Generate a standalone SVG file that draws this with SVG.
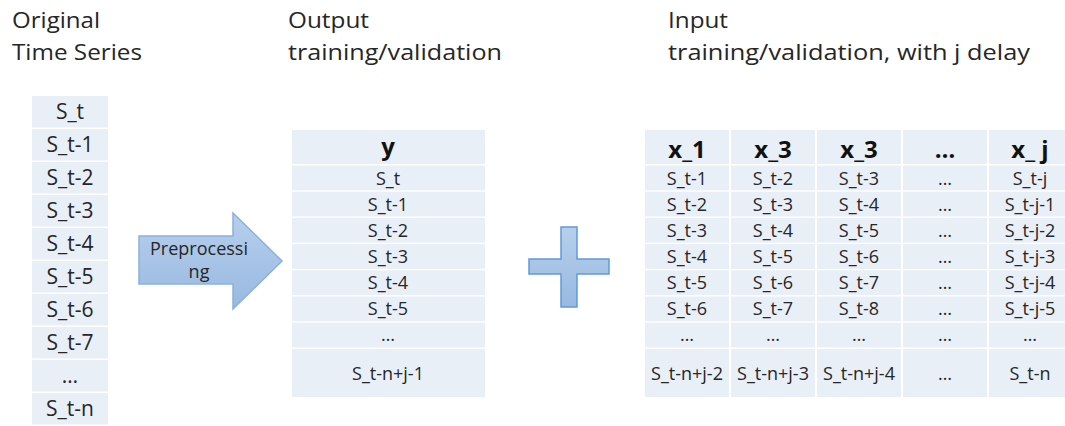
<svg xmlns="http://www.w3.org/2000/svg" width="1065" height="426" viewBox="0 0 1065 426">
  <defs>
    <linearGradient id="blueFill" x1="0" y1="0" x2="0" y2="1">
      <stop offset="0" stop-color="#b7cfec"/>
      <stop offset="1" stop-color="#98b9e1"/>
    </linearGradient>
    <style>
      .title { font-family: "Open Sans", "Liberation Sans", sans-serif; font-size: 22px; fill: #262626; }
      .cell { fill: #e9eff7; }
      .big { font-family: "Open Sans", "Liberation Sans", sans-serif; font-size: 21px; fill: #262626; text-anchor: middle; }
      .txt { font-family: "Open Sans", "Liberation Sans", sans-serif; font-size: 18px; fill: #262626; text-anchor: middle; }
      .hdr { font-family: "Open Sans", "Liberation Sans", sans-serif; font-size: 24px; font-weight: bold; fill: #111; text-anchor: middle; }
      .shape { fill: url(#blueFill); stroke-width: 1.5; }
    </style>
  </defs>
  <rect width="1065" height="426" fill="#ffffff"/>

  <!-- column titles -->
  <g id="titles">
    <text class="title" x="12" y="28" textLength="88" lengthAdjust="spacingAndGlyphs">Original</text>
    <text class="title" x="12" y="60" textLength="130" lengthAdjust="spacingAndGlyphs">Time Series</text>
    <text class="title" x="288" y="28" textLength="81" lengthAdjust="spacingAndGlyphs">Output</text>
    <text class="title" x="288" y="60" textLength="214" lengthAdjust="spacingAndGlyphs">training/validation</text>
    <text class="title" x="668" y="28" textLength="60" lengthAdjust="spacingAndGlyphs">Input</text>
    <text class="title" x="668" y="60" textLength="362" lengthAdjust="spacingAndGlyphs">training/validation, with j delay</text>
  </g>

  <!-- original series column -->
  <g id="series">
    <rect class="cell" x="32" y="96" width="76" height="31.5"/>
    <rect class="cell" x="32" y="129" width="76" height="31.5"/>
    <rect class="cell" x="32" y="162" width="76" height="31.5"/>
    <rect class="cell" x="32" y="195" width="76" height="31.5"/>
    <rect class="cell" x="32" y="228" width="76" height="31.5"/>
    <rect class="cell" x="32" y="261" width="76" height="31.5"/>
    <rect class="cell" x="32" y="294" width="76" height="31.5"/>
    <rect class="cell" x="32" y="327" width="76" height="31.5"/>
    <rect class="cell" x="32" y="360" width="76" height="31.5"/>
    <rect class="cell" x="32" y="393" width="76" height="31.5"/>
    <text class="big" x="70" y="119">S_t</text>
    <text class="big" x="70" y="152">S_t-1</text>
    <text class="big" x="70" y="185">S_t-2</text>
    <text class="big" x="70" y="218">S_t-3</text>
    <text class="big" x="70" y="251">S_t-4</text>
    <text class="big" x="70" y="284">S_t-5</text>
    <text class="big" x="70" y="317">S_t-6</text>
    <text class="big" x="70" y="350">S_t-7</text>
    <text class="big" x="70" y="383">…</text>
    <text class="big" x="70" y="416">S_t-n</text>
  </g>

  <!-- preprocessing arrow -->
  <g id="preprocessing">
    <path class="shape" stroke="#8cb0dc" d="M139,236 H233 V213 L282,261 L233,309 V284 H139 Z"/>
    <text class="txt" x="199" y="255" font-size="16.5">Preprocessi</text>
    <text class="txt" x="199" y="278" font-size="16.5">ng</text>
  </g>

  <!-- output table -->
  <g id="output">
    <rect class="cell" x="292" y="130" width="193" height="34"/>
    <rect class="cell" x="292" y="165.5" width="193" height="24.8"/>
    <rect class="cell" x="292" y="191.7" width="193" height="24.8"/>
    <rect class="cell" x="292" y="217.9" width="193" height="24.8"/>
    <rect class="cell" x="292" y="244.1" width="193" height="24.8"/>
    <rect class="cell" x="292" y="270.3" width="193" height="24.8"/>
    <rect class="cell" x="292" y="296.5" width="193" height="24.8"/>
    <rect class="cell" x="292" y="322.7" width="193" height="24.8"/>
    <rect class="cell" x="292" y="349" width="193" height="48"/>
    <text class="hdr" x="388" y="155">y</text>
    <text class="txt" x="388" y="185">S_t</text>
    <text class="txt" x="388" y="211">S_t-1</text>
    <text class="txt" x="388" y="237">S_t-2</text>
    <text class="txt" x="388" y="263">S_t-3</text>
    <text class="txt" x="388" y="289">S_t-4</text>
    <text class="txt" x="388" y="315">S_t-5</text>
    <text class="txt" x="388" y="341">…</text>
    <text class="txt" x="388" y="380">S_t-n+j-1</text>
  </g>

  <!-- plus sign -->
  <g id="plus">
    <path class="shape" stroke="#5f9bd6" d="M561,227 H577 V259 H609 V274 H577 V307 H561 V274 H529 V259 H561 Z"/>
  </g>

  <!-- input table: column backgrounds -->
  <g id="input">
    <g id="input-cells">
      <rect class="cell" x="645" y="130" width="84" height="34"/>
      <rect class="cell" x="731" y="130" width="84" height="34"/>
      <rect class="cell" x="817" y="130" width="84" height="34"/>
      <rect class="cell" x="903" y="130" width="84" height="34"/>
      <rect class="cell" x="989" y="130" width="84" height="34"/>
      <rect class="cell" x="645" y="165.5" width="84" height="24.8"/>
      <rect class="cell" x="731" y="165.5" width="84" height="24.8"/>
      <rect class="cell" x="817" y="165.5" width="84" height="24.8"/>
      <rect class="cell" x="903" y="165.5" width="84" height="24.8"/>
      <rect class="cell" x="989" y="165.5" width="84" height="24.8"/>
      <rect class="cell" x="645" y="191.7" width="84" height="24.8"/>
      <rect class="cell" x="731" y="191.7" width="84" height="24.8"/>
      <rect class="cell" x="817" y="191.7" width="84" height="24.8"/>
      <rect class="cell" x="903" y="191.7" width="84" height="24.8"/>
      <rect class="cell" x="989" y="191.7" width="84" height="24.8"/>
      <rect class="cell" x="645" y="217.9" width="84" height="24.8"/>
      <rect class="cell" x="731" y="217.9" width="84" height="24.8"/>
      <rect class="cell" x="817" y="217.9" width="84" height="24.8"/>
      <rect class="cell" x="903" y="217.9" width="84" height="24.8"/>
      <rect class="cell" x="989" y="217.9" width="84" height="24.8"/>
      <rect class="cell" x="645" y="244.1" width="84" height="24.8"/>
      <rect class="cell" x="731" y="244.1" width="84" height="24.8"/>
      <rect class="cell" x="817" y="244.1" width="84" height="24.8"/>
      <rect class="cell" x="903" y="244.1" width="84" height="24.8"/>
      <rect class="cell" x="989" y="244.1" width="84" height="24.8"/>
      <rect class="cell" x="645" y="270.3" width="84" height="24.8"/>
      <rect class="cell" x="731" y="270.3" width="84" height="24.8"/>
      <rect class="cell" x="817" y="270.3" width="84" height="24.8"/>
      <rect class="cell" x="903" y="270.3" width="84" height="24.8"/>
      <rect class="cell" x="989" y="270.3" width="84" height="24.8"/>
      <rect class="cell" x="645" y="296.5" width="84" height="24.8"/>
      <rect class="cell" x="731" y="296.5" width="84" height="24.8"/>
      <rect class="cell" x="817" y="296.5" width="84" height="24.8"/>
      <rect class="cell" x="903" y="296.5" width="84" height="24.8"/>
      <rect class="cell" x="989" y="296.5" width="84" height="24.8"/>
      <rect class="cell" x="645" y="322.7" width="84" height="24.8"/>
      <rect class="cell" x="731" y="322.7" width="84" height="24.8"/>
      <rect class="cell" x="817" y="322.7" width="84" height="24.8"/>
      <rect class="cell" x="903" y="322.7" width="84" height="24.8"/>
      <rect class="cell" x="989" y="322.7" width="84" height="24.8"/>
      <rect class="cell" x="645" y="349" width="84" height="48"/>
      <rect class="cell" x="731" y="349" width="84" height="48"/>
      <rect class="cell" x="817" y="349" width="84" height="48"/>
      <rect class="cell" x="903" y="349" width="84" height="48"/>
      <rect class="cell" x="989" y="349" width="84" height="48"/>
    </g>
    <g id="col-x1">
      <text class="hdr" x="687" y="158">x_1</text>
      <text class="txt" x="687" y="185">S_t-1</text>
      <text class="txt" x="687" y="211">S_t-2</text>
      <text class="txt" x="687" y="237">S_t-3</text>
      <text class="txt" x="687" y="263">S_t-4</text>
      <text class="txt" x="687" y="289">S_t-5</text>
      <text class="txt" x="687" y="315">S_t-6</text>
      <text class="txt" x="687" y="341">…</text>
      <text class="txt" x="687" y="380">S_t-n+j-2</text>
    </g>
    <g id="col-x2">
      <text class="hdr" x="773" y="158">x_3</text>
      <text class="txt" x="773" y="185">S_t-2</text>
      <text class="txt" x="773" y="211">S_t-3</text>
      <text class="txt" x="773" y="237">S_t-4</text>
      <text class="txt" x="773" y="263">S_t-5</text>
      <text class="txt" x="773" y="289">S_t-6</text>
      <text class="txt" x="773" y="315">S_t-7</text>
      <text class="txt" x="773" y="341">…</text>
      <text class="txt" x="773" y="380">S_t-n+j-3</text>
    </g>
    <g id="col-x3">
      <text class="hdr" x="859" y="158">x_3</text>
      <text class="txt" x="859" y="185">S_t-3</text>
      <text class="txt" x="859" y="211">S_t-4</text>
      <text class="txt" x="859" y="237">S_t-5</text>
      <text class="txt" x="859" y="263">S_t-6</text>
      <text class="txt" x="859" y="289">S_t-7</text>
      <text class="txt" x="859" y="315">S_t-8</text>
      <text class="txt" x="859" y="341">…</text>
      <text class="txt" x="859" y="380">S_t-n+j-4</text>
    </g>
    <g id="col-dots">
      <text class="hdr" x="945" y="158" font-weight="normal">…</text>
      <text class="txt" x="945" y="185">…</text>
      <text class="txt" x="945" y="211">…</text>
      <text class="txt" x="945" y="237">…</text>
      <text class="txt" x="945" y="263">…</text>
      <text class="txt" x="945" y="289">…</text>
      <text class="txt" x="945" y="315">…</text>
      <text class="txt" x="945" y="341">…</text>
      <text class="txt" x="945" y="380">…</text>
    </g>
    <g id="col-xj">
      <text class="hdr" x="1030" y="158">x_ j</text>
      <text class="txt" x="1030" y="185">S_t-j</text>
      <text class="txt" x="1030" y="211">S_t-j-1</text>
      <text class="txt" x="1030" y="237">S_t-j-2</text>
      <text class="txt" x="1030" y="263">S_t-j-3</text>
      <text class="txt" x="1030" y="289">S_t-j-4</text>
      <text class="txt" x="1030" y="315">S_t-j-5</text>
      <text class="txt" x="1030" y="341">…</text>
      <text class="txt" x="1030" y="380">S_t-n</text>
    </g>
  </g>
</svg>
